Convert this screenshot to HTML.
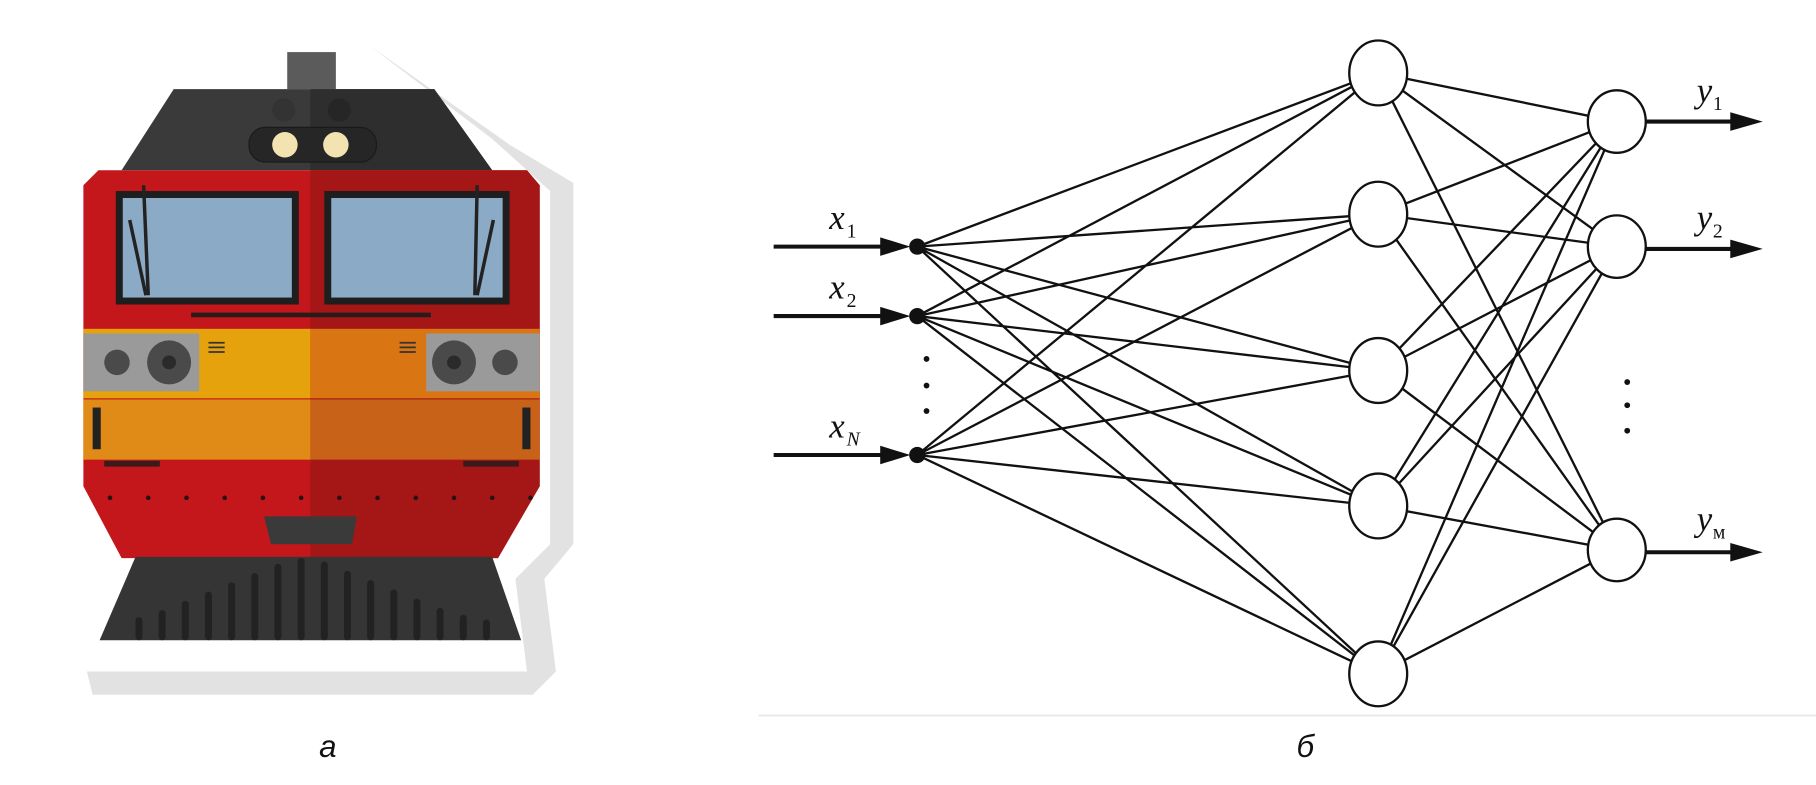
<!DOCTYPE html>
<html><head><meta charset="utf-8"><style>html,body{margin:0;padding:0;background:#fff;overflow:hidden}svg{display:block}</style></head>
<body>
<svg width="1816" height="785" viewBox="0 0 1568 678" preserveAspectRatio="none" xmlns="http://www.w3.org/2000/svg">
<rect width="1568" height="678" fill="#fff"/>
<!-- sticker shadow -->
<path d="M320,40 L440,125 L495,158 L495,470 L470,500 L480,580 L460,600 L80,600 L75,580 L455,580 L445,500 L475,470 L475,165 L425,120 Z" fill="#e2e2e2"/>
<!-- train -->
<rect x="248" y="45" width="42" height="32" fill="#5b5b5b"/>
<path d="M150,77 L375,77 L425,147 L105,147 Z" fill="#3a3a3a"/>
<path d="M268,77 L375,77 L425,147 L268,147 Z" fill="#2e2e2e"/>
<circle cx="245" cy="95" r="10" fill="#333"/><circle cx="293" cy="95" r="10" fill="#262626"/>
<rect x="215" y="110" width="110" height="30" rx="14" fill="#262626" stroke="#1a1a1a"/>
<circle cx="246" cy="125" r="11" fill="#f3e3b0"/><circle cx="290" cy="125" r="11" fill="#f3e3b0"/>
<path d="M85,147 L455,147 L466,160 L466,420 L430,482 L105,482 L72,420 L72,160 Z" fill="#c3171b"/>
<path d="M268,147 L455,147 L466,160 L466,420 L430,482 L268,482 Z" fill="#a51717"/>
<rect x="100" y="165" width="158" height="98" fill="#1e1e1e"/>
<rect x="106" y="171" width="146" height="86" fill="#8aaac6"/>
<rect x="280" y="165" width="160" height="98" fill="#1e1e1e"/>
<rect x="286" y="171" width="148" height="86" fill="#8aaac6"/>
<line x1="124" y1="160" x2="128" y2="255" stroke="#222" stroke-width="3"/>
<line x1="112" y1="190" x2="126" y2="255" stroke="#222" stroke-width="3"/>
<line x1="412" y1="160" x2="410" y2="255" stroke="#222" stroke-width="3"/>
<line x1="426" y1="190" x2="412" y2="255" stroke="#222" stroke-width="3"/>
<line x1="165" y1="272" x2="372" y2="272" stroke="#2a1a1a" stroke-width="4"/>
<rect x="72" y="284" width="196" height="60" fill="#e6a20c"/>
<rect x="268" y="284" width="198" height="60" fill="#d97512"/>
<rect x="72" y="288" width="100" height="50" fill="#9a9a9a"/>
<rect x="368" y="288" width="98" height="50" fill="#9a9a9a"/>
<circle cx="101" cy="313" r="11" fill="#4a4a4a"/><circle cx="146" cy="313" r="19" fill="#4a4a4a"/><circle cx="146" cy="313" r="6" fill="#2a2a2a"/>
<circle cx="436" cy="313" r="11" fill="#4a4a4a"/><circle cx="392" cy="313" r="19" fill="#4a4a4a"/><circle cx="392" cy="313" r="6" fill="#2a2a2a"/>
<g stroke="#333" stroke-width="1.5"><line x1="180" y1="296" x2="194" y2="296"/><line x1="180" y1="300" x2="194" y2="300"/><line x1="180" y1="304" x2="194" y2="304"/><line x1="345" y1="296" x2="359" y2="296"/><line x1="345" y1="300" x2="359" y2="300"/><line x1="345" y1="304" x2="359" y2="304"/></g>
<rect x="72" y="345" width="196" height="52" fill="#e08a18"/>
<rect x="268" y="345" width="198" height="52" fill="#c86218"/>
<rect x="80" y="352" width="7" height="36" fill="#222"/><rect x="451" y="352" width="7" height="36" fill="#222"/>
<rect x="90" y="398" width="48" height="5" fill="#3a1a1a"/><rect x="400" y="398" width="48" height="5" fill="#3a1a1a"/>
<g fill="#2a1111">
<circle cx="95" cy="430" r="2"/><circle cx="128" cy="430" r="2"/><circle cx="161" cy="430" r="2"/><circle cx="194" cy="430" r="2"/><circle cx="227" cy="430" r="2"/><circle cx="260" cy="430" r="2"/><circle cx="293" cy="430" r="2"/><circle cx="326" cy="430" r="2"/><circle cx="359" cy="430" r="2"/><circle cx="392" cy="430" r="2"/><circle cx="425" cy="430" r="2"/><circle cx="458" cy="430" r="2"/>
</g>
<path d="M228,446 L308,446 L304,470 L234,470 Z" fill="#3a3a3a"/>
<path d="M117,481 L425,481 L450,553 L86,553 Z" fill="#353535"/>
<g stroke="#222" stroke-width="6" stroke-linecap="round">
<line x1="120" y1="550" x2="120" y2="536"/><line x1="140" y1="550" x2="140" y2="530"/><line x1="160" y1="550" x2="160" y2="522"/><line x1="180" y1="550" x2="180" y2="514"/><line x1="200" y1="550" x2="200" y2="506"/><line x1="220" y1="550" x2="220" y2="498"/><line x1="240" y1="550" x2="240" y2="490"/><line x1="260" y1="550" x2="260" y2="485"/><line x1="280" y1="550" x2="280" y2="488"/><line x1="300" y1="550" x2="300" y2="496"/><line x1="320" y1="550" x2="320" y2="504"/><line x1="340" y1="550" x2="340" y2="512"/><line x1="360" y1="550" x2="360" y2="520"/><line x1="380" y1="550" x2="380" y2="528"/><line x1="400" y1="550" x2="400" y2="534"/><line x1="420" y1="550" x2="420" y2="538"/>
</g>
<!-- network connections -->
<g stroke="#111" stroke-width="2">
<path d="M792,213 L1190,63 M792,213 L1190,185 M792,213 L1190,320 M792,213 L1190,437 M792,213 L1190,582
M792,273 L1190,63 M792,273 L1190,185 M792,273 L1190,320 M792,273 L1190,437 M792,273 L1190,582
M792,393 L1190,63 M792,393 L1190,185 M792,393 L1190,320 M792,393 L1190,437 M792,393 L1190,582
M1190,63 L1396,105 M1190,63 L1396,213 M1190,63 L1396,475
M1190,185 L1396,105 M1190,185 L1396,213 M1190,185 L1396,475
M1190,320 L1396,105 M1190,320 L1396,213 M1190,320 L1396,475
M1190,437 L1396,105 M1190,437 L1396,213 M1190,437 L1396,475
M1190,582 L1396,105 M1190,582 L1396,213 M1190,582 L1396,475"/>
</g>
<g fill="#fff" stroke="#111" stroke-width="2">
<ellipse cx="1190" cy="63" rx="25" ry="28"/><ellipse cx="1190" cy="185" rx="25" ry="28"/><ellipse cx="1190" cy="320" rx="25" ry="28"/><ellipse cx="1190" cy="437" rx="25" ry="28"/><ellipse cx="1190" cy="582" rx="25" ry="28"/>
<ellipse cx="1396" cy="105" rx="25" ry="27"/><ellipse cx="1396" cy="213" rx="25" ry="27"/><ellipse cx="1396" cy="475" rx="25" ry="27"/>
</g>
<g fill="#111">
<circle cx="792" cy="213" r="7"/><circle cx="792" cy="273" r="7"/><circle cx="792" cy="393" r="7"/>
<circle cx="800" cy="310" r="2.5"/><circle cx="800" cy="333" r="2.5"/><circle cx="800" cy="355" r="2.5"/>
<circle cx="1405" cy="330" r="2.5"/><circle cx="1405" cy="350" r="2.5"/><circle cx="1405" cy="372" r="2.5"/>
</g>
<g stroke="#111" stroke-width="3.5">
<line x1="668" y1="213" x2="765" y2="213"/><line x1="668" y1="273" x2="765" y2="273"/><line x1="668" y1="393" x2="765" y2="393"/>
<line x1="1421" y1="105" x2="1500" y2="105"/><line x1="1421" y1="215" x2="1500" y2="215"/><line x1="1421" y1="477" x2="1500" y2="477"/>
</g>
<g fill="#111">
<path d="M760,205 L786,213 L760,221 Z"/><path d="M760,265 L786,273 L760,281 Z"/><path d="M760,385 L786,393 L760,401 Z"/>
<path d="M1494,97 L1522,105 L1494,113 Z"/><path d="M1494,207 L1522,215 L1494,223 Z"/><path d="M1494,469 L1522,477 L1494,485 Z"/>
</g>
<g font-family="Liberation Serif, serif" font-style="italic" fill="#111">
<text x="716" y="198" font-size="30">x</text><text x="731" y="205" font-size="17" font-style="normal">1</text>
<text x="716" y="258" font-size="30">x</text><text x="731" y="265" font-size="17" font-style="normal">2</text>
<text x="716" y="378" font-size="30">x</text><text x="731" y="385" font-size="17">N</text>
<text x="1465" y="88" font-size="30">y</text><text x="1479" y="95" font-size="17" font-style="normal">1</text>
<text x="1465" y="198" font-size="30">y</text><text x="1479" y="205" font-size="17" font-style="normal">2</text>
<text x="1465" y="458" font-size="30">y</text><text x="1479" y="465" font-size="17" font-style="normal">м</text>
</g>
<line x1="655" y1="618" x2="1568" y2="618" stroke="#e3e6ea" stroke-width="1.5"/>
<g font-family="Liberation Sans, sans-serif" font-style="italic" font-size="27" fill="#111" text-anchor="middle">
<text x="283" y="654">а</text><text x="1127" y="654">б</text>
</g>
</svg>
</body></html>
